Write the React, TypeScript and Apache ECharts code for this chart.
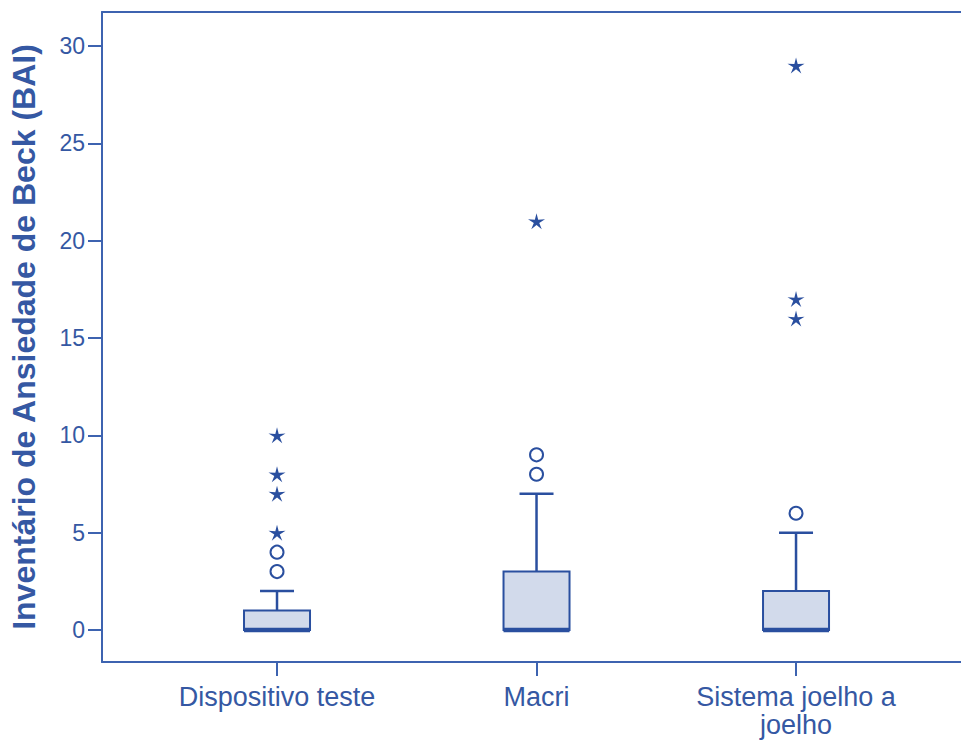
import React, { useEffect, useRef } from "react";
import * as echarts from "echarts";

const categories = ["Dispositivo teste", "Macri", "Sistema joelho a\njoelho"];
const whiskerLow = [0, 0, 0];
const q1 = [0, 0, 0];
const median = [0, 0, 0];
const q3 = [1, 3, 2];
const whiskerHigh = [2, 7, 5];
const outlierCircles = [[3, 4], [8, 9], [6]];
const outlierStars = [[5, 7, 8, 10], [21], [16, 17, 29]];
const yTicks = [0, 5, 10, 15, 20, 25, 30];

const LINE = "#2a4f9f";
const AXIS = "#3d63b0";
const FILL = "#d2daeb";
const TEXT = "#3558a3";
const FONT = "'Liberation Sans', Arial, sans-serif";
const STAR =
  "path://M50 0 L59.4 37.1 L97.55 34.55 L65.2 55 L79.39 90.45 L50 66 L20.61 90.45 L34.8 55 L2.45 34.55 L40.6 37.1 Z";

export default function App() {
  const ref = useRef<HTMLDivElement>(null);
  useEffect(() => {
    if (!ref.current) return;
    const chart = echarts.init(ref.current, null, { renderer: "svg" });
    const boxData = categories.map((_, i) => [
      i + 1,
      whiskerLow[i],
      q1[i],
      median[i],
      q3[i],
      whiskerHigh[i],
    ]);
    const circleData: number[][] = [];
    outlierCircles.forEach((arr, i) => arr.forEach((v) => circleData.push([i + 1, v])));
    const starData: number[][] = [];
    outlierStars.forEach((arr, i) => arr.forEach((v) => starData.push([i + 1, v])));

    const renderBox = (params: any, api: any) => {
      const x = api.value(0);
      const pLo = api.coord([x, api.value(1)]);
      const pQ1 = api.coord([x, api.value(2)]);
      const pMed = api.coord([x, api.value(3)]);
      const pQ3 = api.coord([x, api.value(4)]);
      const pHi = api.coord([x, api.value(5)]);
      const cx = pQ3[0];
      const bw = 66;
      const cw = 34;
      return {
        type: "group",
        children: [
          {
            type: "line",
            shape: { x1: cx, y1: pQ3[1], x2: cx, y2: pHi[1] },
            style: { stroke: LINE, lineWidth: 2.5 },
          },
          {
            type: "line",
            shape: { x1: cx - cw / 2, y1: pHi[1], x2: cx + cw / 2, y2: pHi[1] },
            style: { stroke: LINE, lineWidth: 2.5 },
          },
          {
            type: "line",
            shape: { x1: cx, y1: pQ1[1], x2: cx, y2: pLo[1] },
            style: { stroke: LINE, lineWidth: 2.5 },
          },
          {
            type: "line",
            shape: { x1: cx - cw / 2, y1: pLo[1], x2: cx + cw / 2, y2: pLo[1] },
            style: { stroke: LINE, lineWidth: 2.5 },
          },
          {
            type: "rect",
            shape: { x: cx - bw / 2, y: pQ3[1], width: bw, height: pQ1[1] - pQ3[1] },
            style: { fill: FILL, stroke: LINE, lineWidth: 2 },
          },
          {
            type: "line",
            shape: { x1: cx - bw / 2, y1: pMed[1], x2: cx + bw / 2, y2: pMed[1] },
            style: { stroke: LINE, lineWidth: 4.5 },
          },
        ],
      };
    };

    chart.setOption({
      animation: false,
      backgroundColor: "#ffffff",
      grid: { left: 102, right: 0, top: 12, bottom: 78 },
      xAxis: [
        {
          type: "value",
          min: 0.3256,
          max: 3.6357,
          axisLine: { show: true, onZero: false, lineStyle: { color: AXIS, width: 2 } },
          axisTick: {
            show: true,
            customValues: [1, 2, 3],
            length: 14,
            lineStyle: { color: AXIS, width: 2 },
          },
          axisLabel: {
            customValues: [1, 2, 3],
            formatter: (v: number) => categories[Math.round(v) - 1] ?? "",
            color: TEXT,
            fontFamily: FONT,
            fontSize: 27,
            lineHeight: 28,
            margin: 21,
          },
          splitLine: { show: false },
        },
        {
          type: "value",
          position: "top",
          min: 0.3256,
          max: 3.6357,
          axisLine: { show: true, onZero: false, lineStyle: { color: AXIS, width: 2 } },
          axisTick: { show: false },
          axisLabel: { show: false },
          splitLine: { show: false },
        },
      ],
      yAxis: {
        type: "value",
        min: -1.644,
        max: 31.75,
        name: "Inventário de Ansiedade de Beck (BAI)",
        nameLocation: "middle",
        nameGap: 62,
        nameTextStyle: {
          color: TEXT,
          fontFamily: FONT,
          fontSize: 32,
          fontWeight: "bold",
        },
        axisLine: { show: true, onZero: false, lineStyle: { color: AXIS, width: 2 } },
        axisTick: {
          show: true,
          customValues: yTicks,
          length: 14,
          lineStyle: { color: AXIS, width: 2 },
        },
        axisLabel: {
          customValues: yTicks,
          color: TEXT,
          fontFamily: FONT,
          fontSize: 23,
          margin: 17,
        },
        splitLine: { show: false },
      },
      series: [
        {
          type: "custom",
          renderItem: renderBox,
          data: boxData,
          encode: { x: 0, y: [1, 2, 3, 4, 5] },
          z: 2,
        },
        {
          type: "scatter",
          data: circleData,
          symbol: "circle",
          symbolSize: 13,
          itemStyle: { color: "#ffffff", borderColor: LINE, borderWidth: 2, opacity: 1 },
          z: 3,
        },
        {
          type: "scatter",
          data: starData,
          symbol: STAR,
          symbolSize: [17, 16],
          itemStyle: { color: LINE, opacity: 1 },
          z: 3,
        },
      ],
    });
    return () => chart.dispose();
  }, []);
  return (
    <div
      ref={ref}
      style={{ position: "fixed", left: 0, top: 0, width: 961, height: 740 }}
    />
  );
}
